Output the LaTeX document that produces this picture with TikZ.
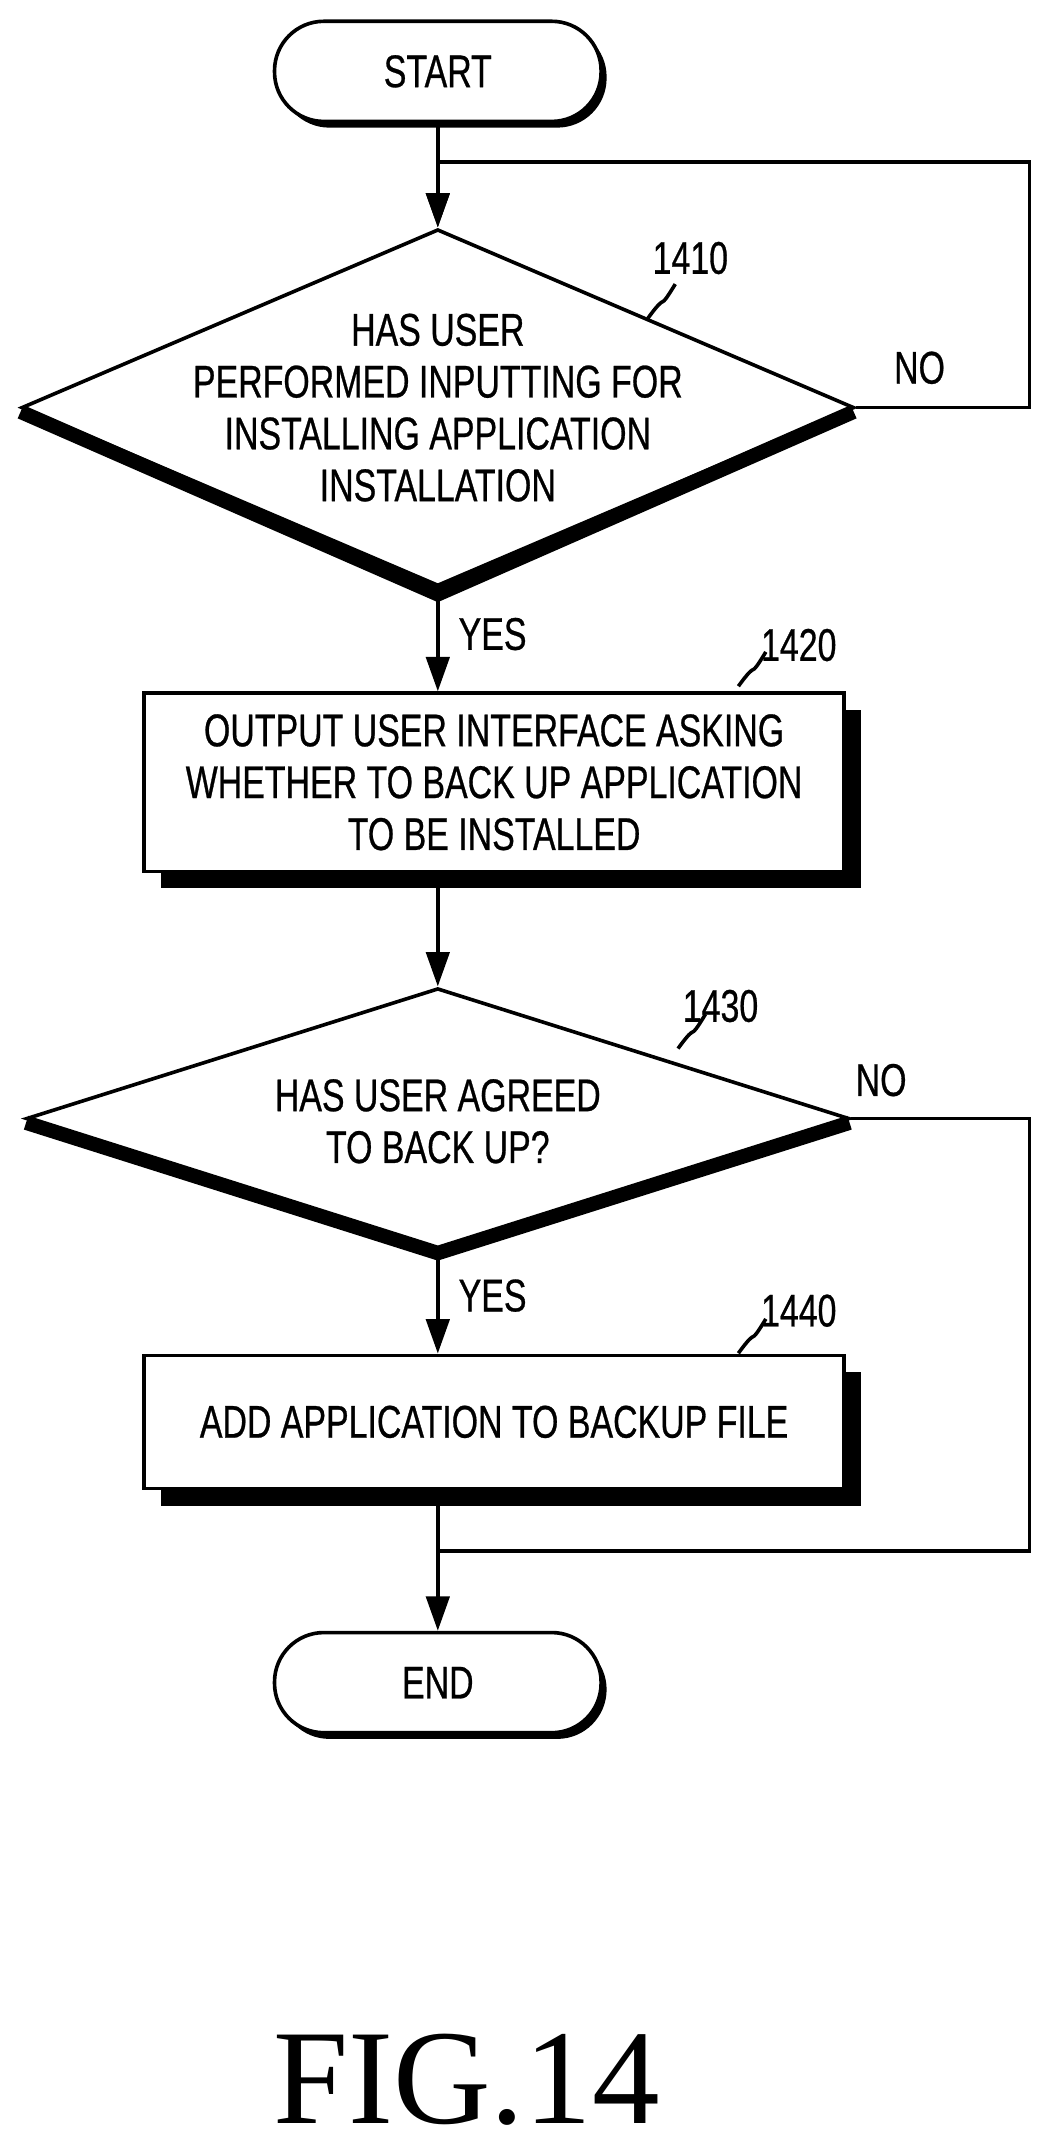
\documentclass[tikz,border=0pt]{standalone}
\usepackage{fontspec}
\setmainfont{Liberation Sans}[FakeStretch=0.74,FakeBold=0.6]
\newfontfamily\figfont{Liberation Serif}
\usetikzlibrary{positioning,arrows.meta,shapes.geometric}

\tikzset{
  line/.style={line width=1.5pt},
  arr/.style={line,-{Triangle[length=0.5cm,width=0.34cm]}},
  txt/.style={align=center,font=\fontsize{19}{21.5}\selectfont},
  term/.style={line,draw,fill=white,rounded corners=0.72cm,minimum width=4.76cm,minimum height=1.46cm,txt},
  proc/.style={line,draw,fill=white,minimum width=10.2cm,txt},
  dec/.style={line,draw,diamond,inner sep=0pt},
  ref/.style={txt},
}

\begin{document}
\begin{tikzpicture}[x=0.02cm,y=-0.02cm]
\useasboundingbox (0,0) rectangle (766,1568);

% terminals
\fill[rounded corners=0.72cm] (204,20) rectangle (442,93);
\node[term] (start) at (319,52) {START};
\fill[rounded corners=0.72cm] (204,1195) rectangle (442,1267);
\node[term] (end) at (319,1226) {END};

% decision 1410
\draw[line width=6pt] (15,300) -- (319,433) -- (622,300);
\node[dec,minimum width=12.14cm,minimum height=5.2cm] (d1) at (319,297) {};
\node[txt] at (319,297) {HAS USER\\PERFORMED INPUTTING FOR\\INSTALLING APPLICATION\\INSTALLATION};

% process 1420
\fill (117,517) rectangle (627,647);
\node[proc,minimum height=2.6cm] (p1) at (360,570) {OUTPUT USER INTERFACE ASKING\\WHETHER TO BACK UP APPLICATION\\TO BE INSTALLED};

% decision 1430
\draw[line width=6pt] (19,818) -- (319,913) -- (619,818);
\node[dec,minimum width=12cm,minimum height=3.8cm] (d2) at (319,815) {};
\node[txt] at (319,817) {HAS USER AGREED\\TO BACK UP?};

% process 1440
\fill (117,1000) rectangle (627,1097);
\node[proc,minimum height=1.94cm] (p2) at (360,1036) {ADD APPLICATION TO BACKUP FILE};

% reference numbers
\node[ref] (r1) at (503,188) {1410};
\draw[line] (472,232) .. controls (488,210) and (478,230) .. (492,207);
\node[ref] (r2) at (582,470) {1420};
\draw[line] (538,500) .. controls (554,478) and (544,498) .. (558,475);
\node[ref] (r3) at (525,733) {1430};
\draw[line] (494,764) .. controls (510,742) and (500,762) .. (514,739);
\node[ref] (r4) at (582,955) {1440};
\draw[line] (538,986) .. controls (554,964) and (544,984) .. (558,961);

% connectors
\coordinate (loop) at (319,118);
\coordinate (join) at (319,1130);
\draw[arr] (start) -- (d1.north);
\draw[line] (d1.east) -| (750,118) -- (loop);
\draw[arr] (loop) -- (d1.north);
\node[txt] at (670,268) {NO};
\draw[arr] (d1.south) -- (p1.north -| d1.south);
\node[txt,anchor=west] at (328,462) {YES};
\draw[arr] (p1.south -| d1.south) -- (d2.north);
\draw[line] (d2.east) -| (750,1130) -- (join);
\node[txt] at (642,787) {NO};
\draw[arr] (d2.south) -- (p2.north -| d2.south);
\node[txt,anchor=west] at (328,944) {YES};
\draw[arr] (p2.south -| d2.south) -- (end);

\node[font=\figfont\fontsize{56}{60}\selectfont] (fig) at (340,1515) {FIG.14};
\end{tikzpicture}
\end{document}
